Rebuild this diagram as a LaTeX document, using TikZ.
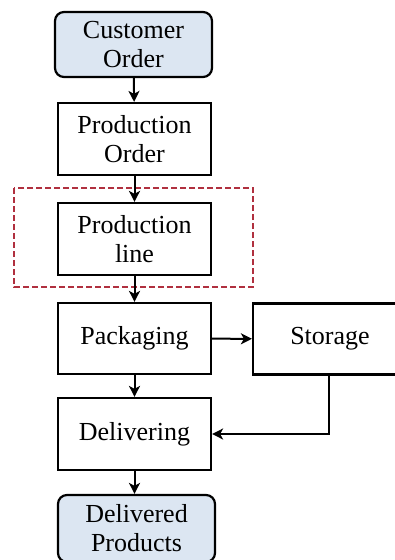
\documentclass[tikz,border=0pt]{standalone}
\usepackage{fontspec}
\setmainfont{Liberation Serif}
\usetikzlibrary{arrows.meta}

\definecolor{endfill}{HTML}{DCE6F2}
\definecolor{linered}{HTML}{B0303F}

\tikzset{
	stage/.style = {draw, line width = 2.2pt, minimum width = 153pt, minimum height = 72pt,
		align = center, font = \fontsize{26}{29}\selectfont, inner sep = 0pt},
	endstage/.style = {stage, rounded corners = 9pt, fill = endfill},
	flow/.style = {line width = 2pt, -{Stealth[length = 11pt, width = 11pt, inset = 3pt]}},
	dashbox/.style = {linered, line width = 2.3pt, dash pattern = on 6pt off 3pt}
}

\begin{document}
\begin{tikzpicture}[x = 1pt, y = 1pt]

	\clip (0, 0) rectangle (395, -560);
	\fill [white] (0, 0) rectangle (395, -560);

	% main column
	\node [endstage, minimum width = 157pt, minimum height = 65pt] (cust) at (133.5, -44.5) {Customer\\Order};
	\node [stage] (porder) at (134.5, -139) {Production\\Order};
	\node [stage] (pline) at (134.5, -239) {Production\\line};
	\node [stage, minimum height = 71pt] (pack) at (134.5, -338.5) {Packaging};
	\node [stage, minimum height = 72pt] (deliv) at (134.5, -434) {Delivering};
	\node [endstage, minimum width = 157pt, minimum height = 67pt] (dprod) at (136.5, -528.5) {Delivered\\Products};

	% side branch
	\node [stage, minimum width = 154pt, minimum height = 71pt] (store) at (330, -339) {Storage};

	% line boundary
	\draw [dashbox] (14, -188) rectangle (253, -287);

	\draw [flow] (cust) -- (porder);
	\draw [flow] (porder) -- (pline);
	\draw [flow] (pline) -- (pack);
	\draw [flow] (pack) -- (deliv);
	\draw [flow] (deliv) -- (deliv |- dprod.north);
	\draw [flow] (pack) -- (store);
	\draw [flow] (store.south -| 329, 0) |- (deliv.east);

\end{tikzpicture}
\end{document}
